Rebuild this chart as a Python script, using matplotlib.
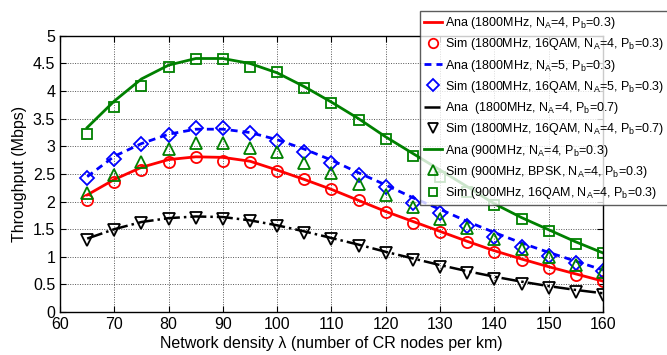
import matplotlib
matplotlib.use("Agg")
import matplotlib.pyplot as plt

plt.rcParams['font.family'] = ['Liberation Sans', 'DejaVu Sans']
plt.rcParams['mathtext.fontset'] = 'custom'
plt.rcParams['mathtext.rm'] = 'Liberation Sans'
plt.rcParams['mathtext.it'] = 'Liberation Sans:italic'

x = [65, 70, 75, 80, 85, 90, 95, 100, 105, 110, 115, 120, 125, 130, 135, 140, 145, 150, 155, 160]

ana_1800_na4_pb03 = [2.12, 2.40, 2.62, 2.76, 2.81, 2.80, 2.73, 2.57, 2.40, 2.22, 2.02, 1.82, 1.64, 1.46, 1.28, 1.11, 0.96, 0.82, 0.69, 0.56]
sim_1800_na4_pb03 = [2.03, 2.35, 2.58, 2.71, 2.81, 2.74, 2.71, 2.55, 2.41, 2.22, 2.03, 1.82, 1.62, 1.45, 1.26, 1.09, 0.94, 0.79, 0.67, 0.57]
ana_1800_na5_pb03 = [2.45, 2.82, 3.05, 3.22, 3.31, 3.31, 3.25, 3.12, 2.95, 2.75, 2.52, 2.30, 2.07, 1.86, 1.64, 1.44, 1.25, 1.08, 0.92, 0.76]
sim_1800_na5_pb03 = [2.43, 2.77, 3.04, 3.21, 3.34, 3.34, 3.24, 3.09, 2.90, 2.69, 2.48, 2.26, 1.98, 1.79, 1.55, 1.36, 1.18, 1.01, 0.88, 0.75]
ana_1800_na4_pb07 = [1.33, 1.50, 1.63, 1.70, 1.73, 1.72, 1.66, 1.57, 1.46, 1.34, 1.22, 1.09, 0.97, 0.85, 0.74, 0.64, 0.55, 0.47, 0.40, 0.34]
sim_1800_na4_pb07 = [1.31, 1.49, 1.62, 1.68, 1.71, 1.68, 1.64, 1.56, 1.44, 1.32, 1.20, 1.07, 0.94, 0.82, 0.70, 0.59, 0.50, 0.43, 0.36, 0.30]
ana_900_na4_pb03 = [3.34, 3.82, 4.22, 4.47, 4.59, 4.59, 4.50, 4.33, 4.08, 3.80, 3.50, 3.17, 2.87, 2.57, 2.27, 1.96, 1.71, 1.49, 1.27, 1.07]
sim_900_bpsk = [2.16, 2.48, 2.72, 2.95, 3.06, 3.06, 2.97, 2.89, 2.69, 2.52, 2.32, 2.11, 1.90, 1.68, 1.52, 1.33, 1.15, 1.00, 0.86, 0.73]
sim_900_16qam = [3.23, 3.72, 4.10, 4.44, 4.59, 4.59, 4.44, 4.34, 4.05, 3.79, 3.48, 3.13, 2.83, 2.45, 2.17, 1.93, 1.68, 1.46, 1.24, 1.06]

xticks = [60, 70, 80, 90, 100, 110, 120, 130, 140, 150, 160]
yticks = [0, 0.5, 1, 1.5, 2, 2.5, 3, 3.5, 4, 4.5, 5]
ytick_labels = ['0', '0.5', '1', '1.5', '2', '2.5', '3', '3.5', '4', '4.5', '5']

green = (0.0, 0.5, 0.0)
fig = plt.figure(figsize=(6.67, 3.55), dpi=100)
ax = fig.add_axes([0.090, 0.121, 0.814, 0.778])

ms = 8
mew = 1.3
h = []
h += ax.plot(x, ana_1800_na4_pb03, '-', color='red', lw=2,
             label=r'Ana (1800MHz, N$_{\rm A}$=4, P$_{\rm b}$=0.3)')
h += ax.plot(x, sim_1800_na4_pb03, 'o', color='red', mfc='none', ms=ms, mew=mew, ls='none',
             label=r'Sim (1800MHz, 16QAM, N$_{\rm A}$=4, P$_{\rm b}$=0.3)')
h += ax.plot(x, ana_1800_na5_pb03, '--', color='blue', lw=2, dashes=(2.5, 1.8),
             label=r'Ana (1800MHz, N$_{\rm A}$=5, P$_{\rm b}$=0.3)')
h += ax.plot(x, sim_1800_na5_pb03, 'D', color='blue', mfc='none', ms=7, mew=mew, ls='none',
             label=r'Sim (1800MHz, 16QAM, N$_{\rm A}$=5, P$_{\rm b}$=0.3)')
h += ax.plot(x, ana_1800_na4_pb07, '-.', color='black', lw=1.8,
             label=r'Ana  (1800MHz, N$_{\rm A}$=4, P$_{\rm b}$=0.7)')
h += ax.plot(x, sim_1800_na4_pb07, 'v', color='black', mfc='none', ms=ms + 1, mew=mew, ls='none',
             label=r'Sim (1800MHz, 16QAM, N$_{\rm A}$=4, P$_{\rm b}$=0.7)')
h += ax.plot(x, ana_900_na4_pb03, '-', color=green, lw=2,
             label=r'Ana (900MHz, N$_{\rm A}$=4, P$_{\rm b}$=0.3)')
h += ax.plot(x, sim_900_bpsk, '^', color=green, mfc='none', ms=ms + 1, mew=mew, ls='none',
             label=r'Sim (900MHz, BPSK, N$_{\rm A}$=4, P$_{\rm b}$=0.3)')
h += ax.plot(x, sim_900_16qam, 's', color=green, mfc='none', ms=7.5, mew=mew, ls='none',
             label=r'Sim (900MHz, 16QAM, N$_{\rm A}$=4, P$_{\rm b}$=0.3)')

ax.set_xlim(60, 160)
ax.set_ylim(0, 5)
ax.set_xticks(xticks)
ax.set_yticks(yticks)
ax.set_yticklabels(ytick_labels)
ax.tick_params(direction='in', labelsize=11.5, length=4, top=True, right=True)
ax.grid(True, color='#555555', linestyle=(0, (1, 1.5)), linewidth=0.7)
ax.set_xlabel('Network density λ (number of CR nodes per km)', fontsize=11.5, labelpad=3)
ax.set_ylabel('Throughput (Mbps)', fontsize=11.5, labelpad=4)
for s in ax.spines.values():
    s.set_linewidth(1.0)

leg = fig.legend(handles=h, loc='upper left', bbox_to_anchor=(0.630, 0.968),
                 fontsize=9.0, frameon=True, fancybox=False, edgecolor='#333333',
                 handlelength=1.45, handletextpad=0.25, labelspacing=0.42,
                 borderpad=0.3, borderaxespad=0, markerscale=0.85)
leg.get_frame().set_linewidth(1.0)
leg.set_zorder(10)

fig.savefig('out.png', dpi=100)
